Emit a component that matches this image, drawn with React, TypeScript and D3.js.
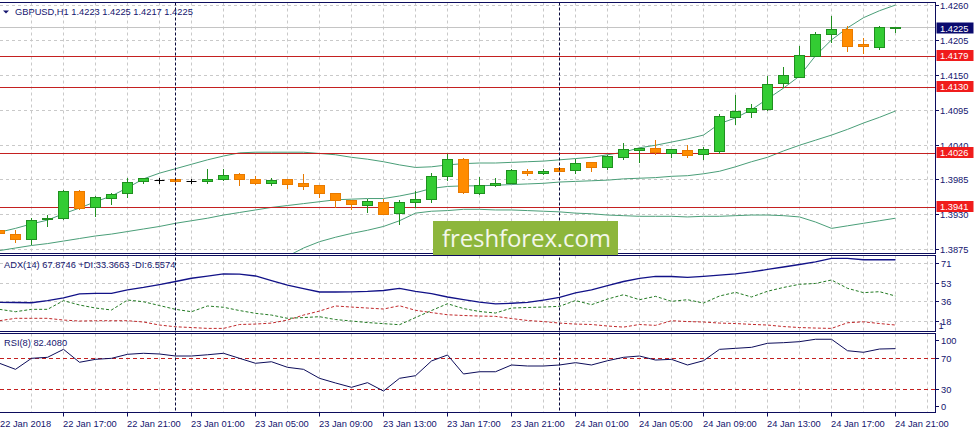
import { useEffect, useRef } from 'react';
import * as d3 from 'd3';

// Header texts
const symbolTitle = 'GBPUSD,H1  1.4223 1.4225 1.4217 1.4225';
const adxTitle = 'ADX(14) 67.8746 +DI:33.3663 -DI:6.5574';
const rsiTitle = 'RSI(8) 82.4080';
const watermark = 'freshforex.com';

// Hourly bars, 22 Jan 13:00 .. 24 Jan 21:00
const opens = [
  1.3905, 1.3899, 1.3891, 1.3922, 1.3924, 1.3967, 1.3941, 1.3956, 1.3963, 1.3982,
  1.3984, 1.3985, 1.3982, 1.3982, 1.3985, 1.3994, 1.3985, 1.3979, 1.3985, 1.3980,
  1.3976, 1.3963, 1.3953, 1.3945, 1.3949, 1.3932, 1.3949, 1.3955, 1.3991, 1.4018,
  1.3963, 1.3976, 1.3979, 1.3999, 1.3995, 1.4003, 1.4000, 1.4012, 1.4005, 1.4021,
  1.4032, 1.4034, 1.4027, 1.4032, 1.4025, 1.4030, 1.4083, 1.4091, 1.4096, 1.4137,
  1.4147, 1.4180, 1.4214, 1.4222, 1.4198, 1.4194, 1.4223,
];
const highs = [
  1.3909, 1.3906, 1.3925, 1.3929, 1.3968, 1.3968, 1.3959, 1.3963, 1.3987, 1.3988,
  1.3988, 1.3986, 1.3985, 1.4001, 1.4001, 1.3995, 1.3991, 1.3988, 1.3986, 1.3994,
  1.3976, 1.3964, 1.3953, 1.3955, 1.3954, 1.3953, 1.3967, 1.3996, 1.4025, 1.4019,
  1.3989, 1.3987, 1.4001, 1.4001, 1.4001, 1.4004, 1.4017, 1.4013, 1.4023, 1.4042,
  1.4035, 1.4048, 1.4033, 1.4039, 1.4037, 1.4088, 1.4118, 1.4104, 1.4148, 1.4163,
  1.4195, 1.4217, 1.4242, 1.4227, 1.4208, 1.4227, 1.4225,
];
const lows = [
  1.3898, 1.3887, 1.3883, 1.3912, 1.3922, 1.3938, 1.3927, 1.3947, 1.3958, 1.3979,
  1.3980, 1.3980, 1.3979, 1.3980, 1.3984, 1.3977, 1.3978, 1.3976, 1.3971, 1.3970,
  1.3957, 1.3941, 1.3938, 1.3934, 1.3930, 1.3915, 1.3942, 1.3949, 1.3984, 1.3963,
  1.3962, 1.3975, 1.3979, 1.3992, 1.3994, 1.3998, 1.3996, 1.3999, 1.4001, 1.4018,
  1.4013, 1.4025, 1.4020, 1.4021, 1.4017, 1.4027, 1.4073, 1.4084, 1.4095, 1.4130,
  1.4146, 1.4180, 1.4202, 1.4188, 1.4185, 1.4191, 1.4217,
];
const closes = [
  1.3900, 1.3891, 1.3921, 1.3925, 1.3967, 1.3940, 1.3957, 1.3962, 1.3981, 1.3987,
  1.3984, 1.3982, 1.3982, 1.3985, 1.3992, 1.3985, 1.3980, 1.3984, 1.3978, 1.3975,
  1.3963, 1.3953, 1.3946, 1.3951, 1.3930, 1.3949, 1.3954, 1.3990, 1.4017, 1.3965,
  1.3977, 1.3979, 1.4000, 1.3996, 1.3998, 1.3999, 1.4011, 1.4004, 1.4022, 1.4033,
  1.4034, 1.4029, 1.4033, 1.4023, 1.4033, 1.4085, 1.4093, 1.4097, 1.4136, 1.4150,
  1.4181, 1.4214, 1.4222, 1.4196, 1.4196, 1.4226, 1.4225,
];

// Bollinger bands
const bbUpper = [
  1.3902, 1.3908, 1.3915, 1.3921, 1.3931, 1.3940, 1.3950, 1.3959, 1.3972, 1.3986,
  1.3995, 1.4002, 1.4009, 1.4016, 1.4022, 1.4027, 1.4028, 1.4028, 1.4028, 1.4028,
  1.4026, 1.4024, 1.4020, 1.4017, 1.4013, 1.4008, 1.4004, 1.4005, 1.4008, 1.4010,
  1.4011, 1.4011, 1.4012, 1.4013, 1.4014, 1.4016, 1.4018, 1.4020, 1.4024, 1.4028,
  1.4035, 1.4039, 1.4044, 1.4049, 1.4055, 1.4073, 1.4082, 1.4095, 1.4112, 1.4129,
  1.4148, 1.4180, 1.4205, 1.4224, 1.4240, 1.4251, 1.4260,
];
const bbMiddle = [
  1.3873, 1.3877, 1.3881, 1.3884, 1.3888, 1.3892, 1.3896, 1.3899, 1.3903, 1.3907,
  1.3911, 1.3916, 1.3920, 1.3924, 1.3929, 1.3933, 1.3937, 1.3941, 1.3944, 1.3947,
  1.3950, 1.3953, 1.3954, 1.3955, 1.3955, 1.3959, 1.3964, 1.3971, 1.3974, 1.3975,
  1.3975, 1.3976, 1.3977, 1.3978, 1.3979, 1.3981, 1.3982, 1.3983, 1.3984, 1.3986,
  1.3987, 1.3988, 1.3990, 1.3991, 1.3994, 1.3998, 1.4005, 1.4013, 1.4020, 1.4030,
  1.4039, 1.4047, 1.4055, 1.4064, 1.4074, 1.4083, 1.4093,
];
const bbLower: (number | null)[] = [
  null, null, null, null, null, null, null, null, null, null,
  null, null, null, null, null, null, null, null, 1.3864, 1.3877,
  1.3887, 1.3894, 1.3900, 1.3905, 1.3911, 1.3920, 1.3932, 1.3935, 1.3936, 1.3938,
  1.3938, 1.3937, 1.3937, 1.3936, 1.3935, 1.3934, 1.3932, 1.3931, 1.3929, 1.3928,
  1.3927, 1.3927, 1.3927, 1.3926, 1.3927, 1.3927, 1.3928, 1.3929, 1.3929, 1.3928,
  1.3926, 1.3918, 1.3908, 1.3912, 1.3916, 1.3920, 1.3924,
];

// ADX(14)
const adx = [
  34.9, 34.7, 34.5, 36.5, 38.9, 42.6, 43.2, 43.2, 46.3, 48.6,
  51.3, 54.1, 57.1, 59.0, 61.2, 61.0, 59.2, 55.0, 50.7, 47.5,
  44.4, 44.4, 44.6, 45.0, 45.8, 47.8, 44.9, 43.0, 39.8, 37.4,
  35.0, 33.4, 34.0, 34.8, 37.0, 39.5, 43.5, 46.3, 50.4, 54.1,
  56.9, 58.9, 58.7, 58.0, 58.9, 59.9, 61.1, 62.9, 65.2, 67.5,
  69.8, 72.2, 75.4, 75.4, 74.2, 74.2, 74.2,
];
const plusDI = [
  28.4, 26.2, 28.4, 28.4, 36.4, 32.4, 29.6, 27.8, 37.0, 35.4,
  31.9, 28.4, 26.2, 31.5, 30.3, 27.3, 24.7, 23.1, 20.1, 20.8,
  21.6, 19.0, 17.6, 16.2, 15.2, 14.2, 20.8, 27.3, 33.6, 29.1,
  26.4, 25.0, 29.6, 30.1, 30.5, 31.2, 36.5, 32.7, 37.9, 41.9,
  37.3, 40.4, 35.8, 37.3, 34.2, 40.7, 44.1, 39.8, 45.1, 48.6,
  51.5, 52.3, 55.5, 47.8, 43.8, 44.7, 40.7,
];
const minusDI = [
  17.9, 20.1, 20.1, 20.1, 18.5, 17.6, 17.9, 17.9, 17.9, 16.7,
  13.9, 12.3, 11.6, 10.8, 10.8, 14.4, 14.8, 15.7, 18.5, 23.1,
  26.8, 31.5, 30.5, 29.6, 28.7, 31.7, 27.5, 25.4, 23.4, 22.7,
  22.2, 21.9, 19.9, 18.1, 17.1, 15.7, 14.8, 14.4, 13.0, 12.0,
  14.4, 13.6, 17.9, 17.1, 16.7, 15.7, 15.3, 14.5, 13.9, 12.5,
  11.6, 11.1, 10.8, 16.0, 16.9, 15.3, 13.9,
];

// RSI(8)
const rsi = [
  63.5, 55.7, 69.9, 71.2, 81.5, 64.8, 68.6, 69.9, 75.1, 76.4,
  75.5, 72.9, 72.9, 74.5, 76.4, 69.9, 63.5, 65.5, 58.3, 55.7,
  44.1, 38.1, 32.5, 38.5, 27.7, 44.1, 47.5, 66.5, 74.2, 49.7,
  52.6, 52.6, 61.3, 60.0, 60.0, 61.3, 64.3, 61.3, 66.8, 71.2,
  72.9, 67.7, 68.6, 61.3, 66.8, 81.5, 82.8, 84.1, 89.3, 90.1,
  91.4, 94.5, 94.5, 79.7, 77.7, 81.9, 82.4,
];

// Axis labels, one every 4 bars
const timeLabels = [
  '22 Jan 2018', '22 Jan 17:00', '22 Jan 21:00', '23 Jan 01:00', '23 Jan 05:00',
  '23 Jan 09:00', '23 Jan 13:00', '23 Jan 17:00', '23 Jan 21:00', '24 Jan 01:00',
  '24 Jan 05:00', '24 Jan 09:00', '24 Jan 13:00', '24 Jan 17:00', '24 Jan 21:00',
];
const priceTicks = [1.4260, 1.4205, 1.4150, 1.4095, 1.4040, 1.3985, 1.3930, 1.3875];
const levelLines = [1.4179, 1.4130, 1.4026, 1.3941];
const bidPrice = 1.4225;
const adxTicks = [71, 53, 36, 18];
const rsiTicks = [100, 70, 30, 0];
const rsiLevels = [70, 30];
const daySeparators = [11, 35];

const W = 977;
const H = 433;
const plotRight = 935.5;
const FONT = "'Liberation Sans', Arial, sans-serif";
const NAVY = '#14146e';
const GRID = '#c9c9c9';
const RED_LINE = '#c42020';

export default function App() {
  const svgRef = useRef<SVGSVGElement>(null);

  useEffect(() => {
    if (!svgRef.current) return;
    const svg = d3.select(svgRef.current);
    svg.selectAll('*').remove();

    const main = { top: 2.5, bottom: 253.5 };
    const adxP = { top: 255.5, bottom: 331.5 };
    const rsiP = { top: 333.5, bottom: 412.5 };

    const n = opens.length;
    const x = d3.scaleLinear().domain([0, n - 1]).range([-0.5, -0.5 + 16 * (n - 1)]);
    const yPrice = d3.scaleLinear().domain([1.3875, 1.4260]).range([249.3, 5]);
    const yAdx = d3.scaleLinear().domain([18, 71]).range([320.6, 263.2]);
    const yRsi = d3.scaleLinear().domain([0, 100]).range([412.5, 335]);

    svg.append('rect').attr('width', W).attr('height', H).attr('fill', '#fff');

    const defs = svg.append('defs');
    [['clip-main', main], ['clip-adx', adxP], ['clip-rsi', rsiP]].forEach(([id, p]: any) => {
      defs.append('clipPath').attr('id', id)
        .append('rect').attr('x', 0).attr('y', p.top).attr('width', plotRight).attr('height', p.bottom - p.top);
    });

    const gMain = svg.append('g').attr('clip-path', 'url(#clip-main)');
    const gAdx = svg.append('g').attr('clip-path', 'url(#clip-adx)');
    const gRsi = svg.append('g').attr('clip-path', 'url(#clip-rsi)');

    // vertical grid every 2 bars
    const gridIdx = d3.range(2, 59, 2);
    [[gMain, main], [gAdx, adxP], [gRsi, rsiP]].forEach(([g, p]: any) => {
      g.selectAll('line.vg').data(gridIdx).join('line')
        .attr('x1', (d: number) => x(d)).attr('x2', (d: number) => x(d))
        .attr('y1', p.top).attr('y2', p.bottom)
        .attr('stroke', GRID).attr('stroke-dasharray', '3,3');
    });

    // horizontal grid
    gMain.selectAll('line.hg').data(priceTicks).join('line')
      .attr('x1', 0).attr('x2', plotRight)
      .attr('y1', d => Math.round(yPrice(d)) + 0.5).attr('y2', d => Math.round(yPrice(d)) + 0.5)
      .attr('stroke', GRID).attr('stroke-dasharray', '3,3');
    gAdx.selectAll('line.hg').data(adxTicks).join('line')
      .attr('x1', 0).attr('x2', plotRight)
      .attr('y1', d => Math.round(yAdx(d)) + 0.5).attr('y2', d => Math.round(yAdx(d)) + 0.5)
      .attr('stroke', GRID).attr('stroke-dasharray', '3,3');

    // bid line
    gMain.append('line')
      .attr('x1', 0).attr('x2', plotRight)
      .attr('y1', Math.round(yPrice(bidPrice)) + 0.5).attr('y2', Math.round(yPrice(bidPrice)) + 0.5)
      .attr('stroke', '#c4c4c4');

    // Bollinger bands
    const bandLine = d3.line<number | null>()
      .defined(d => d !== null)
      .x((_, i) => x(i))
      .y(d => yPrice(d as number));
    [bbUpper, bbMiddle, bbLower].forEach(series => {
      gMain.append('path').datum(series as (number | null)[])
        .attr('d', bandLine)
        .attr('fill', 'none').attr('stroke', '#4a9e78').attr('stroke-width', 1);
    });

    // support / resistance levels
    gMain.selectAll('line.lvl').data(levelLines).join('line')
      .attr('x1', 0).attr('x2', plotRight)
      .attr('y1', d => Math.round(yPrice(d)) + 0.5).attr('y2', d => Math.round(yPrice(d)) + 0.5)
      .attr('stroke', RED_LINE).attr('stroke-width', 1.2);

    // candles
    const cg = gMain.append('g');
    for (let i = 0; i < n; i++) {
      const o = opens[i], c = closes[i], h = highs[i], l = lows[i];
      const cx = x(i);
      const doji = o === c;
      const up = c > o;
      const stroke = doji ? '#000' : up ? '#1f8f1f' : '#e87a00';
      const fill = up ? '#33cc33' : '#ff8c00';
      cg.append('line')
        .attr('x1', cx).attr('x2', cx)
        .attr('y1', Math.round(yPrice(h))).attr('y2', Math.round(yPrice(l)) + 1)
        .attr('stroke', stroke);
      if (doji) {
        const yy = Math.round(yPrice(o)) + 0.5;
        cg.append('line').attr('x1', cx - 5).attr('x2', cx + 5)
          .attr('y1', yy).attr('y2', yy).attr('stroke', '#000');
      } else {
        const yTop = Math.round(yPrice(Math.max(o, c))) + 0.5;
        const yBot = Math.round(yPrice(Math.min(o, c))) + 0.5;
        cg.append('rect')
          .attr('x', cx - 5).attr('y', yTop)
          .attr('width', 10).attr('height', Math.max(1, yBot - yTop))
          .attr('fill', fill).attr('stroke', stroke);
      }
    }

    // ADX lines
    const adxLine = d3.line<number>().x((_, i) => x(i)).y(d => yAdx(d));
    gAdx.append('path').datum(minusDI).attr('d', adxLine)
      .attr('fill', 'none').attr('stroke', '#c0282a').attr('stroke-dasharray', '3,2');
    gAdx.append('path').datum(plusDI).attr('d', adxLine)
      .attr('fill', 'none').attr('stroke', '#237a23').attr('stroke-dasharray', '3,2');
    gAdx.append('path').datum(adx).attr('d', adxLine)
      .attr('fill', 'none').attr('stroke', '#121288').attr('stroke-width', 1.3);

    // RSI
    gRsi.selectAll('line.lv').data(rsiLevels).join('line')
      .attr('x1', 0).attr('x2', plotRight)
      .attr('y1', d => Math.round(yRsi(d)) + 0.5).attr('y2', d => Math.round(yRsi(d)) + 0.5)
      .attr('stroke', RED_LINE).attr('stroke-dasharray', '4,3');
    const rsiLine = d3.line<number>().x((_, i) => x(i)).y(d => yRsi(d));
    gRsi.append('path').datum(rsi).attr('d', rsiLine)
      .attr('fill', 'none').attr('stroke', '#0c0c5a').attr('stroke-width', 1);

    // day separators
    daySeparators.forEach(k => {
      svg.append('line')
        .attr('x1', x(k)).attr('x2', x(k))
        .attr('y1', main.top).attr('y2', rsiP.bottom)
        .attr('stroke', '#0a0a3c').attr('stroke-dasharray', '3,2');
    });

    // panel frames
    [main, adxP, rsiP].forEach(p => {
      svg.append('rect')
        .attr('x', -1).attr('y', p.top)
        .attr('width', plotRight + 1).attr('height', p.bottom - p.top)
        .attr('fill', 'none').attr('stroke', '#0c0c5c').attr('stroke-width', 1);
    });

    // watermark
    svg.append('rect')
      .attr('x', 433).attr('y', 221).attr('width', 185).attr('height', 34)
      .attr('fill', '#8db63c');
    svg.append('text')
      .attr('x', 442).attr('y', 247)
      .attr('font-family', "'Open Sans', 'Noto Sans', sans-serif")
      .attr('font-size', 24)
      .attr('textLength', 169)
      .attr('fill', '#f3f7ea')
      .text(watermark);

    const txt = (g: any, tx: number, ty: number, s: string, color = NAVY, anchor = 'start') =>
      g.append('text')
        .attr('x', tx).attr('y', ty)
        .attr('font-family', FONT).attr('font-size', 9.3)
        .attr('fill', color).attr('text-anchor', anchor)
        .text(s);

    // titles
    svg.append('path').attr('d', 'M3,10.5 L9,10.5 L6,13.5 Z').attr('fill', NAVY);
    txt(svg, 15, 15, symbolTitle);
    txt(svg, 4, 268, adxTitle);
    txt(svg, 4, 346, rsiTitle);

    // right price axis
    priceTicks.forEach(p => {
      const yy = Math.round(yPrice(p)) + 0.5;
      svg.append('line').attr('x1', plotRight).attr('x2', plotRight + 3.5)
        .attr('y1', yy).attr('y2', yy).attr('stroke', '#0c0c5c');
      txt(svg, 940, yy + 3.5, p.toFixed(4));
    });
    adxTicks.forEach(v => {
      const yy = Math.max(adxP.top + 7, Math.round(yAdx(v)) + 0.5);
      svg.append('line').attr('x1', plotRight).attr('x2', plotRight + 3.5)
        .attr('y1', yy).attr('y2', yy).attr('stroke', '#0c0c5c');
      txt(svg, 941, yy + 3.5, String(v));
    });
    txt(svg, 938.5, adxP.bottom - 3, '1');
    rsiTicks.forEach(v => {
      const raw = Math.round(yRsi(v)) + 0.5;
      const yy = Math.min(rsiP.bottom - 6, Math.max(rsiP.top + 7, raw));
      svg.append('line').attr('x1', plotRight).attr('x2', plotRight + 3.5)
        .attr('y1', yy).attr('y2', yy).attr('stroke', '#0c0c5c');
      txt(svg, 941, yy + 3.5, String(v));
    });

    // level boxes
    levelLines.forEach(p => {
      const yy = Math.round(yPrice(p)) + 0.5;
      svg.append('rect').attr('x', 936.5).attr('y', yy - 6.5).attr('width', 37).attr('height', 11)
        .attr('fill', '#f01c1c');
      txt(svg, 940, yy + 2.5, p.toFixed(4), '#fff');
    });
    {
      const yy = Math.round(yPrice(bidPrice)) + 0.5;
      svg.append('rect').attr('x', 936.5).attr('y', yy - 5).attr('width', 37).attr('height', 11)
        .attr('fill', '#0a0a6e');
      txt(svg, 940, yy + 4, bidPrice.toFixed(4), '#fff');
    }

    // time axis
    timeLabels.forEach((s, i) => {
      const tx = x(i * 4);
      svg.append('line').attr('x1', tx).attr('x2', tx)
        .attr('y1', rsiP.bottom).attr('y2', rsiP.bottom + 4).attr('stroke', '#0c0c5c');
      txt(svg, Math.max(0, tx - 0.5), 426.5, s);
    });
  }, []);

  return (
    <svg
      ref={svgRef}
      width={W}
      height={H}
      style={{ position: 'absolute', left: 0, top: 0, display: 'block' }}
    />
  );
}
